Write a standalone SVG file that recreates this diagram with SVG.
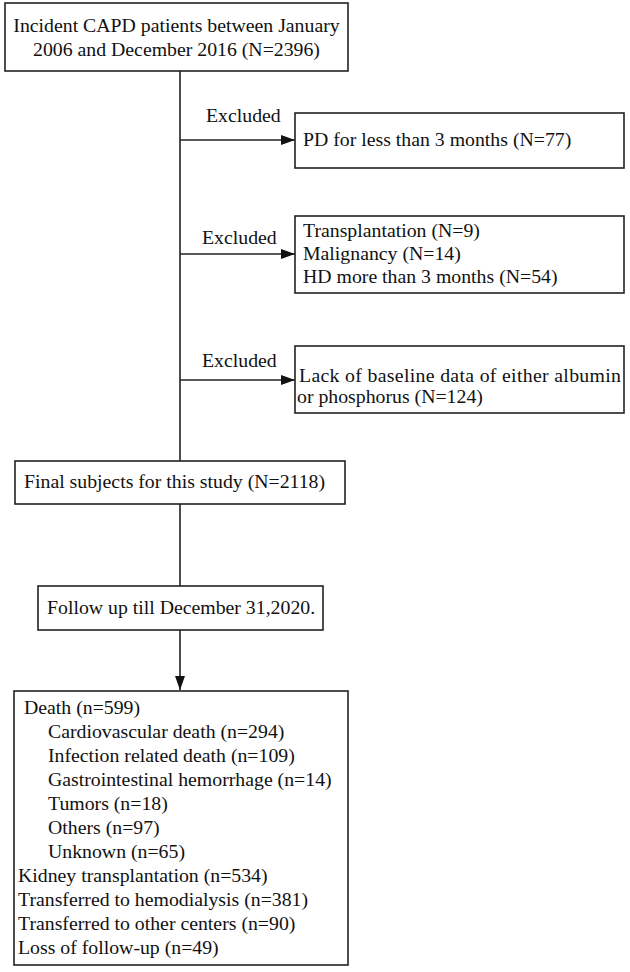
<svg xmlns="http://www.w3.org/2000/svg" width="630" height="972" viewBox="0 0 630 972">
<style>
.box{fill:#fff;stroke:#222;stroke-width:1.6}
.ln{fill:none;stroke:#222;stroke-width:1.6}
text{font-family:"Liberation Serif","Times New Roman",serif;font-size:19.8px;fill:#111}
</style>
<defs>
<marker id="ah" viewBox="0 0 14 10" refX="14" refY="5" markerWidth="14" markerHeight="10" markerUnits="userSpaceOnUse" orient="auto">
<path d="M0,0 L14,5 L0,10 Z" fill="#111"/>
</marker>
</defs>
<rect width="630" height="972" fill="#fff"/>
<g id="connectors">
<path class="ln" d="M180,71 V461"/>
<path class="ln" d="M180,504 V586"/>
<path class="ln" d="M180,630 V690" marker-end="url(#ah)"/>
<path class="ln" d="M180,140 H295" marker-end="url(#ah)"/>
<path class="ln" d="M180,254 H295" marker-end="url(#ah)"/>
<path class="ln" d="M180,380 H295" marker-end="url(#ah)"/>
<text x="206" y="122">Excluded</text>
<text x="202" y="244">Excluded</text>
<text x="202" y="367">Excluded</text>
</g>
<g id="n1">
<rect class="box" x="5" y="3" width="343" height="68"/>
<text x="176.5" y="32" text-anchor="middle">Incident CAPD patients between January</text>
<text x="176.5" y="56" text-anchor="middle">2006 and December 2016 (N=2396)</text>
</g>
<g id="n2">
<rect class="box" x="295" y="113" width="329" height="55"/>
<text x="303" y="146">PD for less than 3 months (N=77)</text>
</g>
<g id="n3">
<rect class="box" x="295" y="216" width="329" height="77"/>
<text x="303" y="237">Transplantation (N=9)</text>
<text x="303" y="260">Malignancy (N=14)</text>
<text x="303" y="283">HD more than 3 months (N=54)</text>
</g>
<g id="n4">
<rect class="box" x="295" y="346" width="329" height="67"/>
<text x="299" y="382" textLength="322" lengthAdjust="spacing">Lack of baseline data of either albumin</text>
<text x="297" y="403">or phosphorus (N=124)</text>
</g>
<g id="n5">
<rect class="box" x="15" y="461" width="330" height="43"/>
<text x="24" y="488">Final subjects for this study (N=2118)</text>
</g>
<g id="n6">
<rect class="box" x="38" y="586" width="285" height="44"/>
<text x="47" y="614">Follow up till December 31,2020.</text>
</g>
<g id="n7">
<rect class="box" x="14" y="691" width="334" height="274"/>
<text x="24" y="714">Death (n=599)</text>
<text x="48" y="738">Cardiovascular death (n=294)</text>
<text x="48" y="762">Infection related death (n=109)</text>
<text x="48" y="786">Gastrointestinal hemorrhage (n=14)</text>
<text x="48" y="810">Tumors (n=18)</text>
<text x="48" y="834">Others (n=97)</text>
<text x="48" y="858">Unknown (n=65)</text>
<text x="18" y="882">Kidney transplantation (n=534)</text>
<text x="18" y="906">Transferred to hemodialysis (n=381)</text>
<text x="18" y="930">Transferred to other centers (n=90)</text>
<text x="18" y="954">Loss of follow-up (n=49)</text>
</g>
</svg>
